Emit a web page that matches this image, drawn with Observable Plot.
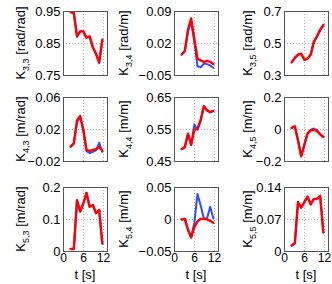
<!DOCTYPE html>
<html><head><meta charset="utf-8">
<script src="https://cdn.jsdelivr.net/npm/d3@7"></script>
<script src="https://cdn.jsdelivr.net/npm/@observablehq/plot@0.6"></script>
<style>
html,body{margin:0;padding:0;background:#fff;}
#wrap{position:relative;width:332px;height:284px;overflow:hidden;background:#fff;}
#wrap svg{position:absolute;overflow:visible;}
</style></head>
<body><div id="wrap"></div>
<script>
// time samples [s]
const t = [2.15, 3.1, 4.05, 5.0, 5.95, 6.9, 7.85, 8.8, 9.75, 10.7, 11.65];
const xTicks = [0, 6, 12];
const xTickLabels = ["0", "6", "12"];

// panel names, units, y ticks
const names = ["3,3","3,4","3,5","4,3","4,4","4,5","5,3","5,4","5,5"];
const units = ["[rad/rad]","[rad/m]","[rad/m]","[m/rad]","[m/m]","[m/m]","[m/rad]","[m/m]","[m/m]"];
const yTicks = [
  [0.75,0.85,0.95],[-0.05,0.02,0.09],[0.3,0.5,0.7],
  [-0.02,0.02,0.06],[0.45,0.55,0.65],[-0.2,0,0.2],
  [0,0.1,0.2],[-0.05,0,0.05],[0,0.07,0.14]
];
const yTickLabels = [
  ["0.75","0.85","0.95"],["\u22120.05","0.02","0.09"],["0.3","0.5","0.7"],
  ["\u22120.02","0.02","0.06"],["0.45","0.55","0.65"],["\u22120.2","0","0.2"],
  ["0","0.1","0.2"],["\u22120.05","0","0.05"],["0","0.07","0.14"]
];

// blue series
const K33_blue = [0.948,0.945,0.872,0.888,0.888,0.868,0.872,0.838,0.818,0.79,0.862];
const K34_blue = [-0.004,0.004,0.047,0.066,0.025,-0.03,-0.032,-0.024,-0.025,-0.028,-0.033];
const K35_blue = [0.383,0.41,0.43,0.436,0.398,0.405,0.43,0.51,0.545,0.585,0.615];
const K43_blue = [-0.0014,0.0027,0.029,0.035,0.018,-0.007,-0.0095,-0.008,-0.006,0.0034,-0.008];
const K44_blue = [0.489,0.495,0.537,0.502,0.566,0.549,0.579,0.623,0.61,0.604,0.608];
const K45_blue = [0.01,0.02,-0.067,-0.165,-0.095,-0.024,-0.002,0.006,-0.004,-0.027,-0.046];
const K53_blue = [0.008,0.008,0.16,0.125,0.15,0.183,0.14,0.145,0.12,0.13,0.025];
const K54_blue = [0.0,0.001,-0.016,-0.028,-0.005,0.04,0.022,0.002,0.001,0.02,0.002];
const K55_blue = [0.013,0.018,0.108,0.096,0.108,0.12,0.103,0.115,0.115,0.122,0.042];

// red series
const K33_red = [0.948,0.945,0.872,0.888,0.888,0.868,0.872,0.838,0.818,0.79,0.862];
const K34_red = [-0.004,0.003,0.05,0.075,0.03,-0.013,-0.017,-0.02,-0.018,-0.02,-0.025];
const K35_red = [0.383,0.41,0.43,0.436,0.398,0.405,0.43,0.51,0.545,0.585,0.615];
const K43_red = [-0.0014,0.0027,0.031,0.037,0.02,-0.0055,-0.0067,-0.0055,-0.0046,-0.002,-0.0063];
const K44_red = [0.489,0.495,0.537,0.502,0.549,0.552,0.579,0.623,0.61,0.604,0.608];
const K45_red = [0.01,0.02,-0.067,-0.168,-0.097,-0.026,-0.006,0.0,-0.01,-0.03,-0.047];
const K53_red = [0.008,0.008,0.16,0.125,0.15,0.183,0.14,0.145,0.12,0.13,0.025];
const K54_red = [0.0,0.001,-0.016,-0.028,-0.012,-0.003,0.001,0.001,0.0,-0.002,-0.005];
const K55_red = [0.013,0.018,0.108,0.096,0.108,0.12,0.103,0.115,0.115,0.122,0.042];

const blues = [K33_blue,K34_blue,K35_blue,K43_blue,K44_blue,K45_blue,K53_blue,K54_blue,K55_blue];
const reds  = [K33_red,K34_red,K35_red,K43_red,K44_red,K45_red,K53_red,K54_red,K55_red];

// layout
const frameLeft = [63, 174, 284];
const frameTop = [11, 97, 187];
const frameW = 44, frameH = 64;
const mL = 60, mR = 4, mT = 6;
const labelX = [22, 14, 27.5];
const font = "'Liberation Sans', Arial, Helvetica, sans-serif";

const wrap = document.getElementById("wrap");
for (let k = 0; k < 9; k++) {
  const r = Math.floor(k / 3), c = k % 3;
  const bottomRow = r === 2;
  const mB = bottomRow ? 32 : 6;
  const yt = yTicks[k], yl = yTickLabels[k];
  const rowsB = t.map((x, i) => ({t: x, v: blues[k][i]}));
  const rowsR = t.map((x, i) => ({t: x, v: reds[k][i]}));
  const svg = Plot.plot({
    width: mL + frameW + mR,
    height: mT + frameH + mB,
    marginLeft: mL, marginRight: mR, marginTop: mT, marginBottom: mB,
    style: {fontSize: "13px", fontFamily: font, color: "#000", background: "transparent", overflow: "visible"},
    x: {domain: [0, 13.2], ticks: xTicks, tickSize: 0, tickPadding: 2, label: null,
        tickFormat: d => xTickLabels[xTicks.indexOf(d)], axis: bottomRow ? "bottom" : null},
    y: {domain: [yt[0], yt[2]], ticks: yt, tickSize: 0, tickPadding: 3, label: null,
        tickFormat: d => yl[yt.indexOf(d)]},
    marks: [
      Plot.ruleX(xTicks.slice(1), {stroke: "#999", strokeDasharray: "1,2", strokeWidth: 0.8}),
      Plot.ruleY([yt[1]], {stroke: "#999", strokeDasharray: "1,2", strokeWidth: 0.8}),
      Plot.line(rowsB, {x: "t", y: "v", stroke: "#2e4dff", strokeWidth: 2}),
      Plot.line(rowsR, {x: "t", y: "v", stroke: "#ff0000", strokeWidth: 2.4}),
      Plot.frame({stroke: "#555", strokeWidth: 1})
    ]
  });
  svg.style.left = (frameLeft[c] - mL) + "px";
  svg.style.top = (frameTop[r] - mT) + "px";
  const s = d3.select(svg);
  if (bottomRow) s.selectAll("[aria-label='x-axis tick label'] text, [aria-label='x-axis tick label']").attr("font-size", 12);
  const txt = s.append("text")
    .attr("transform", `translate(${labelX[c]},${mT + frameH / 2}) rotate(-90)`)
    .attr("text-anchor", "middle")
    .attr("font-family", font)
    .attr("font-size", 13)
    .attr("fill", "#000");
  txt.append("tspan").text("K");
  txt.append("tspan").attr("font-size", 9).attr("dy", 4).text(names[k]);
  txt.append("tspan").attr("dy", -4).text(" " + units[k]);
  if (bottomRow) {
    s.append("text")
      .attr("x", mL + frameW / 2)
      .attr("y", mT + frameH + 28)
      .attr("text-anchor", "middle")
      .attr("font-family", font)
      .attr("font-size", 13)
      .attr("fill", "#000")
      .text("t [s]");
  }
  wrap.appendChild(svg);
}
</script></body></html>
